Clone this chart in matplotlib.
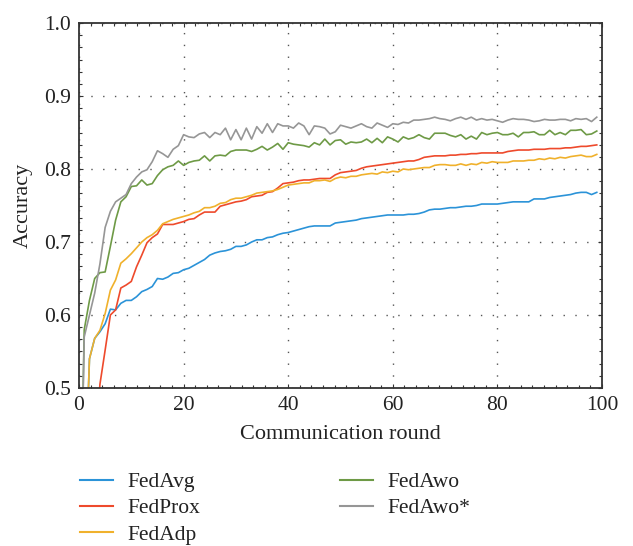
import matplotlib
matplotlib.use("Agg")
import matplotlib.pyplot as plt
from matplotlib.ticker import MultipleLocator, FormatStrFormatter
from matplotlib.lines import Line2D

rounds = list(range(100))

fedavg = [0.10, 0.33, 0.54, 0.568, 0.577, 0.588, 0.608, 0.607, 0.616, 0.620,
          0.620, 0.625, 0.632, 0.635, 0.639, 0.650, 0.649, 0.652, 0.657, 0.658,
          0.662, 0.664, 0.668, 0.672, 0.676, 0.682, 0.685, 0.687, 0.688, 0.690,
          0.694, 0.694, 0.696, 0.700, 0.703, 0.703, 0.706, 0.707, 0.710, 0.712,
          0.713, 0.715, 0.717, 0.719, 0.721, 0.722, 0.722, 0.722, 0.722, 0.726,
          0.727, 0.728, 0.729, 0.730, 0.732, 0.733, 0.734, 0.735, 0.736, 0.737,
          0.737, 0.737, 0.737, 0.738, 0.738, 0.739, 0.741, 0.744, 0.745, 0.745,
          0.746, 0.747, 0.747, 0.748, 0.749, 0.749, 0.750, 0.752, 0.752, 0.752,
          0.752, 0.753, 0.754, 0.755, 0.755, 0.755, 0.755, 0.759, 0.759, 0.759,
          0.761, 0.762, 0.763, 0.764, 0.765, 0.767, 0.768, 0.768, 0.765, 0.768]

fedprox = [0.10, 0.20, 0.30, 0.40, 0.505, 0.552, 0.600, 0.607, 0.637, 0.641,
           0.646, 0.666, 0.682, 0.699, 0.706, 0.711, 0.724, 0.724, 0.724, 0.726,
           0.728, 0.731, 0.732, 0.737, 0.741, 0.741, 0.741, 0.749, 0.751, 0.753,
           0.755, 0.756, 0.758, 0.762, 0.763, 0.764, 0.768, 0.769, 0.774, 0.780,
           0.781, 0.782, 0.784, 0.785, 0.785, 0.786, 0.787, 0.787, 0.787, 0.792,
           0.795, 0.796, 0.797, 0.798, 0.801, 0.803, 0.804, 0.805, 0.806, 0.807,
           0.808, 0.809, 0.810, 0.811, 0.811, 0.813, 0.816, 0.817, 0.818, 0.818,
           0.818, 0.819, 0.819, 0.820, 0.820, 0.821, 0.821, 0.822, 0.822, 0.822,
           0.822, 0.822, 0.824, 0.825, 0.826, 0.826, 0.826, 0.827, 0.827, 0.827,
           0.828, 0.828, 0.828, 0.829, 0.829, 0.830, 0.831, 0.831, 0.832, 0.833]

fedadp = [0.10, 0.33, 0.54, 0.568, 0.579, 0.602, 0.634, 0.648, 0.671, 0.677,
          0.684, 0.692, 0.700, 0.706, 0.710, 0.716, 0.725, 0.728, 0.731, 0.733,
          0.735, 0.737, 0.740, 0.742, 0.747, 0.747, 0.749, 0.753, 0.754, 0.758,
          0.760, 0.760, 0.762, 0.764, 0.767, 0.768, 0.769, 0.770, 0.772, 0.775,
          0.778, 0.779, 0.780, 0.781, 0.781, 0.784, 0.784, 0.785, 0.783, 0.787,
          0.789, 0.788, 0.790, 0.790, 0.792, 0.793, 0.794, 0.793, 0.796, 0.795,
          0.797, 0.796, 0.800, 0.799, 0.800, 0.801, 0.802, 0.802, 0.805, 0.806,
          0.806, 0.805, 0.805, 0.807, 0.805, 0.807, 0.806, 0.809, 0.808, 0.810,
          0.809, 0.809, 0.809, 0.811, 0.811, 0.811, 0.812, 0.812, 0.814, 0.813,
          0.815, 0.814, 0.816, 0.815, 0.817, 0.818, 0.819, 0.817, 0.817, 0.820]

fedawo = [0.20, 0.58, 0.62, 0.65, 0.658, 0.659, 0.694, 0.730, 0.755, 0.762,
          0.776, 0.777, 0.785, 0.778, 0.780, 0.791, 0.799, 0.803, 0.805, 0.811,
          0.805, 0.809, 0.811, 0.812, 0.818, 0.811, 0.818, 0.819, 0.818, 0.824,
          0.826, 0.826, 0.826, 0.824, 0.827, 0.831, 0.826, 0.830, 0.835, 0.827,
          0.836, 0.834, 0.833, 0.832, 0.830, 0.836, 0.833, 0.841, 0.833, 0.839,
          0.840, 0.834, 0.837, 0.836, 0.837, 0.841, 0.836, 0.842, 0.836, 0.844,
          0.841, 0.837, 0.844, 0.841, 0.843, 0.847, 0.843, 0.841, 0.849, 0.849,
          0.849, 0.846, 0.844, 0.847, 0.841, 0.845, 0.841, 0.850, 0.847, 0.849,
          0.850, 0.847, 0.847, 0.849, 0.844, 0.850, 0.850, 0.851, 0.847, 0.847,
          0.853, 0.847, 0.850, 0.847, 0.853, 0.853, 0.854, 0.847, 0.848, 0.852]

fedawo_star = [0.20, 0.57, 0.60, 0.63, 0.67, 0.72, 0.742, 0.755, 0.760, 0.765,
               0.780, 0.789, 0.796, 0.799, 0.810, 0.825, 0.821, 0.816, 0.827, 0.832,
               0.847, 0.844, 0.843, 0.848, 0.850, 0.843, 0.850, 0.847, 0.856, 0.840,
               0.854, 0.840, 0.856, 0.841, 0.858, 0.849, 0.862, 0.850, 0.862, 0.859,
               0.859, 0.856, 0.863, 0.859, 0.847, 0.859, 0.858, 0.856, 0.848, 0.851,
               0.860, 0.858, 0.856, 0.859, 0.862, 0.858, 0.856, 0.863, 0.860, 0.857,
               0.862, 0.861, 0.864, 0.863, 0.867, 0.867, 0.868, 0.869, 0.871, 0.869,
               0.868, 0.866, 0.869, 0.871, 0.868, 0.871, 0.867, 0.869, 0.867, 0.868,
               0.866, 0.864, 0.867, 0.869, 0.868, 0.868, 0.867, 0.865, 0.866, 0.868,
               0.867, 0.867, 0.868, 0.868, 0.866, 0.869, 0.868, 0.869, 0.865, 0.871]

labels = ["FedAvg", "FedProx", "FedAdp", "FedAwo", "FedAwo*"]
colors = ["#2b93d8", "#ee4a2c", "#f0b12c", "#6e9a46", "#969696"]
series = [fedavg, fedprox, fedadp, fedawo, fedawo_star]

plt.rcParams['font.family'] = ['Liberation Serif', 'DejaVu Serif']

fig = plt.figure(figsize=(6.33, 5.46), dpi=100)
ax = fig.add_axes([79/633, 1 - 388/546, (602 - 79)/633, (388 - 23)/546])

for ys, c, lab in zip(series, colors, labels):
    ax.plot(rounds, ys, color=c, lw=1.2, label=lab)

ax.set_xlim(0, 100)
ax.set_ylim(0.5, 1.0)
ax.xaxis.set_major_locator(MultipleLocator(20))
ax.yaxis.set_major_locator(MultipleLocator(0.1))
ax.xaxis.set_minor_locator(MultipleLocator(20/9))
ax.yaxis.set_minor_locator(MultipleLocator(0.1/6))
ax.yaxis.set_major_formatter(FormatStrFormatter('%.1f'))

ax.tick_params(which='both', direction='in', top=True, right=True, colors='#333333',
               labelcolor='#222222', labelsize=15.5)
ax.tick_params(which='major', length=3, width=0.8, pad=6)
ax.tick_params(which='minor', length=2.5, width=0.8)

ax.grid(which='major', color='#555555', linestyle=(0, (1, 7.5)), linewidth=1.0)
for s in ax.spines.values():
    s.set_color('#333333')
    s.set_linewidth(1.3)

ax.set_xlabel("Communication round", fontsize=16, color='#222222', labelpad=7)
ax.set_ylabel("Accuracy", fontsize=16, color='#222222', labelpad=8)

handles = [Line2D([0], [0], color=c, lw=1.5) for c in colors]
common = dict(loc='upper left', frameon=False, fontsize=15.5, handlelength=1.5,
              handletextpad=0.7, labelspacing=0.28, borderaxespad=0, borderpad=0.2)
leg1 = fig.legend(handles[:3], labels[:3], bbox_to_anchor=(76/633, 1 - 468/546), **common)
leg2 = fig.legend(handles[3:], labels[3:], bbox_to_anchor=(336/633, 1 - 468/546), **common)
for t in leg1.get_texts() + leg2.get_texts():
    t.set_color('#222222')

fig.savefig("out.png", dpi=100)
